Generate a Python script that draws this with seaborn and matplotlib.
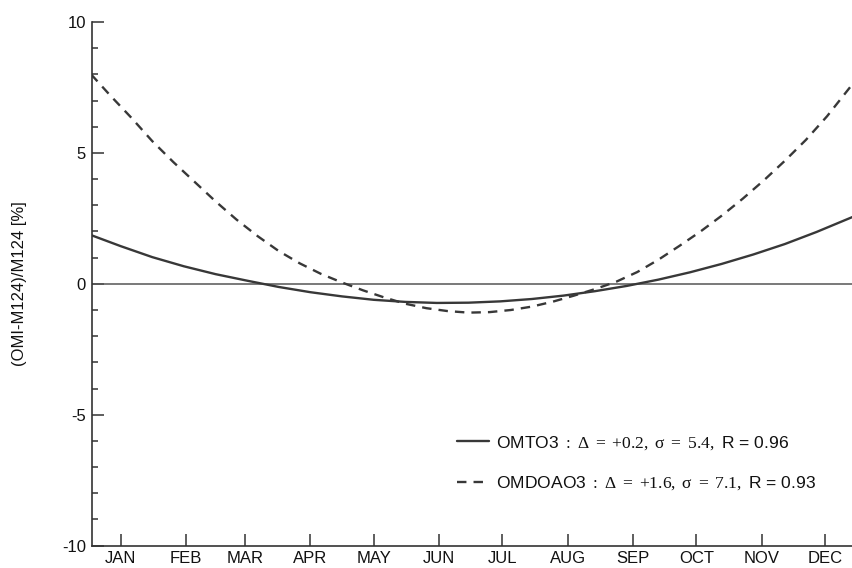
import numpy as np
import pandas as pd
import matplotlib
matplotlib.use("Agg")
import matplotlib.pyplot as plt
from matplotlib.ticker import FixedLocator, MultipleLocator
import seaborn as sns

# Day-of-year sample positions and relative differences [%]
omto3_day = [1, 15, 30, 45, 60, 75, 90, 105, 120, 135, 150, 165, 180,
             195, 210, 225, 240, 255, 270, 285, 300, 315, 330, 345, 362]
omto3_val = [1.86, 1.44, 1.02, 0.67, 0.37, 0.12, -0.12, -0.32, -0.48, -0.61,
             -0.69, -0.73, -0.72, -0.67, -0.58, -0.45, -0.28, -0.08, 0.16,
             0.44, 0.76, 1.12, 1.52, 1.98, 2.55]

omdoao3_day = [1, 10, 20, 30, 40, 50, 60, 70, 80, 90, 100, 110, 120, 130,
               140, 150, 160, 170, 180, 190, 200, 210, 220, 230, 240, 250,
               260, 270, 280, 290, 300, 310, 320, 330, 340, 350, 362]
omdoao3_val = [8.0, 7.2, 6.35, 5.45, 4.65, 3.9, 3.15, 2.45, 1.82, 1.25, 0.78,
               0.38, 0.05, -0.25, -0.52, -0.76, -0.93, -1.04, -1.10, -1.08,
               -1.0, -0.87, -0.68, -0.45, -0.2, 0.08, 0.45, 0.92, 1.45, 2.0,
               2.6, 3.25, 3.95, 4.7, 5.5, 6.4, 7.62]

month_days = [15, 46, 74, 105, 135, 166, 196, 227, 258, 288, 319, 349]
month_labels = ["JAN", "FEB", "MAR", "APR", "MAY", "JUN",
                "JUL", "AUG", "SEP", "OCT", "NOV", "DEC"]

label_omto3 = r"OMTO3 $:\mathrm{\ \Delta\ =\ {+}0.2,\ \sigma\ =\ 5.4,}$ R = 0.96"
label_omdoao3 = r"OMDOAO3 $:\mathrm{\ \Delta\ =\ {+}1.6,\ \sigma\ =\ 7.1,}$ R = 0.93"

df = pd.concat([
    pd.DataFrame({"day": omto3_day, "diff": omto3_val, "product": label_omto3}),
    pd.DataFrame({"day": omdoao3_day, "diff": omdoao3_val, "product": label_omdoao3}),
], ignore_index=True)

sns.set_style("ticks")
plt.rcParams["font.family"] = ["Liberation Sans", "DejaVu Sans"]
plt.rcParams["mathtext.fontset"] = "custom"
plt.rcParams["mathtext.rm"] = "Liberation Serif"
plt.rcParams["mathtext.it"] = "Liberation Serif:italic"
plt.rcParams["mathtext.sf"] = "Liberation Sans"

fig = plt.figure(figsize=(8.53, 5.68), dpi=100)
ax = fig.add_axes([0.1073, 0.0393, 0.8927, 0.922])

line_col = "#383838"
sns.lineplot(data=df, x="day", y="diff", style="product",
             hue="product", palette=[line_col, line_col],
             dashes={label_omto3: "", label_omdoao3: (4, 3)},
             linewidth=1.7, ax=ax, legend=True)

ax.axhline(0, color="#555555", lw=1.1, zorder=1)

ax.set_xlim(1.2, 362.3)
ax.set_ylim(-10, 10)
ax.xaxis.set_major_locator(FixedLocator(month_days))
ax.set_xticklabels(month_labels)
ax.yaxis.set_major_locator(FixedLocator([-10, -5, 0, 5, 10]))
ax.yaxis.set_minor_locator(MultipleLocator(1))
ax.set_yticklabels(["-10", "-5", "0", "5", "10"])

ax.tick_params(axis="both", which="major", direction="in", length=8.5,
               width=1.1, color="#333333", labelsize=12, labelcolor="#111111")
ax.tick_params(axis="y", which="minor", direction="in", length=4.3,
               width=1.1, color="#333333")
ax.tick_params(axis="y", which="major", pad=4)
ax.tick_params(axis="x", which="major", pad=4)

for side in ["top", "right"]:
    ax.spines[side].set_visible(False)
for side in ["left", "bottom"]:
    ax.spines[side].set_linewidth(1.2)
    ax.spines[side].set_color("#333333")

ax.set_xlabel("")
ax.set_ylabel("(OMI-M124)/M124 [%]", fontsize=12, color="#111111", labelpad=25)

leg = ax.legend(loc="upper left", bbox_to_anchor=(0.462, 0.24),
                frameon=False, fontsize=12.6, handlelength=1.8,
                handletextpad=0.4, labelspacing=1.3, borderpad=0.3)
for t in leg.get_texts():
    t.set_color("#111111")

fig.savefig("out.png", dpi=100)
